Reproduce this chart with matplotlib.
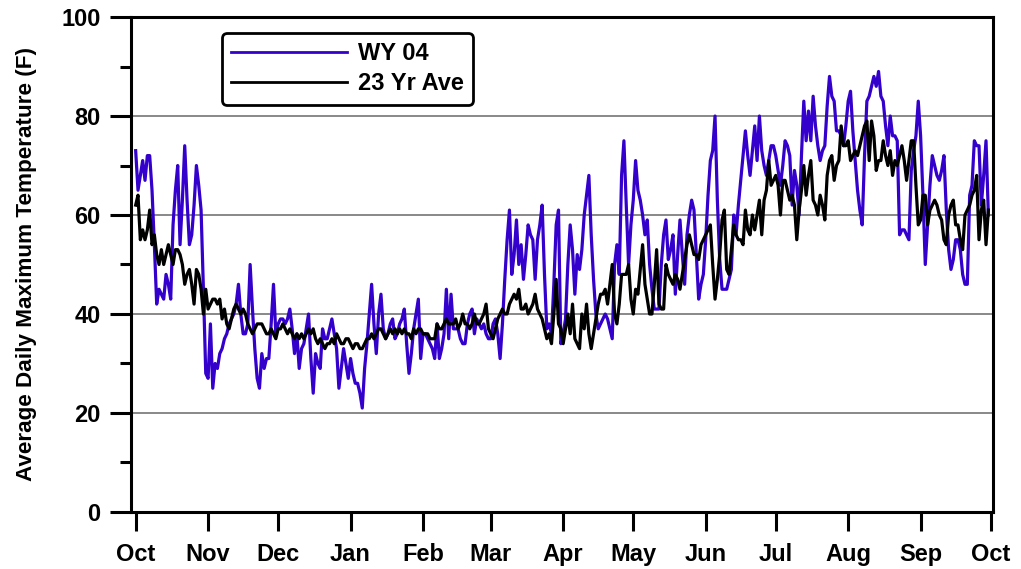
import numpy as np
import matplotlib
matplotlib.use("Agg")
import matplotlib.pyplot as plt
from matplotlib.ticker import MultipleLocator

plt.rcParams['font.family'] = ['Liberation Sans', 'DejaVu Sans']
plt.rcParams['font.weight'] = 'bold'

# daily max temps, water year Oct 2003 - Sep 2004 (F)
wy04 = {
    'Oct': [73, 65, 68, 71, 67, 72, 72, 65, 54, 42, 45, 44, 43, 48, 46, 43, 58, 65, 70, 54,
            63, 74, 63, 54, 56, 62, 70, 66, 61, 45, 28],
    'Nov': [27, 38, 25, 30, 29, 32, 33, 35, 36, 38, 39, 40, 42, 46, 40, 36, 36, 38, 50, 41,
            33, 27, 25, 32, 29, 31, 31, 38, 46, 36],
    'Dec': [38, 39, 39, 38, 39, 41, 37, 32, 36, 29, 33, 34, 37, 40, 31, 24, 32, 30, 29, 37,
            35, 35, 37, 39, 36, 33, 25, 29, 33, 30, 27],
    'Jan': [31, 28, 26, 26, 24, 21, 29, 34, 40, 46, 38, 32, 40, 44, 37, 35, 36, 38, 39, 35,
            36, 38, 39, 41, 34, 28, 32, 37, 40, 43, 31],
    'Feb': [36, 36, 35, 34, 33, 31, 38, 31, 33, 36, 45, 35, 44, 37, 37, 37, 35, 34, 34, 38,
            40, 41, 36, 39, 38, 37, 38, 36, 35],
    'Mar': [35, 38, 39, 36, 31, 38, 47, 55, 61, 48, 52, 59, 50, 54, 47, 52, 58, 56, 55, 47,
            55, 58, 62, 48, 37, 38, 36, 46, 58, 61, 34],
    'Apr': [36, 39, 50, 58, 53, 44, 52, 49, 53, 60, 64, 68, 56, 47, 40, 37, 38, 39, 40, 39,
            37, 35, 50, 54, 48, 68, 75, 62, 50, 58],
    'May': [63, 71, 65, 63, 60, 56, 59, 50, 45, 41, 41, 41, 50, 56, 59, 51, 53, 56, 44, 52,
            59, 52, 46, 56, 60, 63, 61, 52, 43, 46, 48],
    'Jun': [55, 64, 71, 73, 80, 63, 51, 45, 45, 45, 47, 49, 60, 56, 62, 67, 72, 77, 72, 68,
            73, 78, 71, 80, 73, 70, 68, 71, 74, 74],
    'Jul': [72, 69, 66, 70, 75, 74, 72, 62, 69, 66, 60, 72, 83, 75, 81, 75, 84, 78, 74, 71,
            73, 74, 82, 88, 84, 83, 77, 77, 76, 74, 78],
    'Aug': [83, 85, 77, 71, 65, 61, 58, 72, 83, 84, 86, 88, 86, 89, 84, 83, 78, 74, 80, 76,
            76, 75, 56, 57, 57, 56, 55, 69, 73, 76, 83],
    'Sep': [76, 64, 50, 58, 66, 72, 70, 68, 67, 69, 72, 61, 53, 49, 51, 55, 55, 53, 48, 46,
            46, 64, 66, 75, 74, 74, 62, 68, 75, 60],
}

ave23 = {
    'Oct': [62, 64, 55, 57, 55, 57, 61, 54, 56, 52, 50, 53, 50, 52, 54, 52, 50, 53, 53, 52,
            50, 46, 48, 49, 46, 42, 49, 48, 45, 40, 45],
    'Nov': [41, 42, 43, 43, 42, 43, 39, 41, 38, 37, 39, 41, 42, 41, 40, 41, 40, 38, 37, 36,
            37, 38, 38, 38, 37, 36, 36, 37, 36, 35],
    'Dec': [37, 37, 38, 37, 36, 37, 36, 35, 36, 35, 36, 35, 36, 37, 36, 37, 35, 34, 35, 34,
            33, 34, 34, 35, 34, 36, 35, 34, 34, 35, 35],
    'Jan': [34, 33, 34, 34, 33, 33, 34, 35, 35, 36, 35, 36, 37, 37, 36, 35, 36, 37, 36, 37,
            36, 37, 36, 37, 36, 36, 35, 37, 36, 37, 37],
    'Feb': [36, 36, 36, 35, 35, 35, 38, 37, 37, 38, 39, 38, 38, 38, 39, 37, 38, 40, 38, 38,
            37, 38, 40, 38, 38, 39, 40, 42, 37],
    'Mar': [36, 35, 37, 39, 40, 41, 40, 40, 42, 43, 44, 43, 45, 41, 41, 42, 40, 41, 42, 44,
            41, 40, 39, 37, 35, 36, 34, 40, 47, 38, 37],
    'Apr': [34, 37, 40, 36, 42, 35, 34, 33, 40, 37, 42, 36, 33, 36, 39, 42, 44, 44, 45, 42,
            46, 50, 40, 38, 42, 48, 48, 48, 50, 43],
    'May': [40, 45, 44, 49, 54, 46, 43, 40, 40, 46, 53, 42, 41, 41, 50, 48, 47, 46, 48, 47,
            45, 48, 51, 54, 56, 54, 52, 52, 51, 54, 55],
    'Jun': [56, 57, 58, 50, 43, 47, 52, 59, 61, 49, 48, 53, 58, 56, 55, 55, 54, 61, 57, 56,
            60, 57, 60, 63, 56, 63, 65, 71, 66, 67],
    'Jul': [68, 66, 60, 67, 67, 65, 63, 64, 62, 55, 61, 65, 70, 64, 68, 71, 63, 62, 60, 64,
            62, 59, 68, 71, 72, 67, 70, 71, 78, 74, 74],
    'Aug': [75, 71, 72, 73, 72, 74, 76, 78, 79, 71, 79, 76, 69, 71, 71, 75, 72, 70, 73, 68,
            71, 70, 72, 74, 71, 67, 71, 75, 75, 66, 58],
    'Sep': [59, 64, 64, 58, 61, 62, 63, 62, 60, 59, 55, 54, 60, 62, 63, 58, 58, 55, 53, 60,
            61, 62, 64, 65, 68, 55, 61, 63, 54, 61],
}

months = ['Oct', 'Nov', 'Dec', 'Jan', 'Feb', 'Mar', 'Apr', 'May', 'Jun', 'Jul', 'Aug', 'Sep']
month_labels = months + ['Oct']

wy_vals = np.concatenate([wy04[m] for m in months])
ave_vals = np.concatenate([ave23[m] for m in months])
days = np.arange(len(wy_vals))

# month start positions (day index)
month_len = [len(wy04[m]) for m in months]
month_starts = np.concatenate([[0], np.cumsum(month_len)])

fig = plt.figure(figsize=(10.21, 5.69), dpi=100)
ax = fig.add_axes([0.1283, 0.1002, 0.8443, 0.8699])

ax.plot(days, wy_vals, color='#3300cc', lw=2.3, label='WY 04', zorder=3)
ax.plot(days, ave_vals, color='black', lw=2.3, label='23 Yr Ave', zorder=4)

ax.set_xlim(-2, 367)
ax.set_ylim(0, 100)
ax.set_xticks(month_starts)
ax.set_xticklabels(month_labels)
ax.yaxis.set_major_locator(MultipleLocator(20))
ax.yaxis.set_minor_locator(MultipleLocator(10))

for y in [20, 40, 60, 80]:
    ax.axhline(y, color='#7f7f7f', lw=1.3, zorder=1)

for s in ax.spines.values():
    s.set_linewidth(2.2)

ax.tick_params(axis='y', which='major', length=15, width=2.2, pad=7, labelsize=17)
ax.tick_params(axis='y', which='minor', length=8, width=2.2)
ax.tick_params(axis='x', which='major', length=14, width=2.2, pad=8, labelsize=17)

ax.set_ylabel('Average Daily Maximum Temperature (F)', fontsize=16.2, fontweight='bold', labelpad=17)

leg = ax.legend(loc='upper left', bbox_to_anchor=(0.1056, 0.968), fontsize=17,
                handlelength=4.9, handletextpad=0.45, labelspacing=0.3, borderpad=0.4,
                fancybox=True, framealpha=1, edgecolor='black', borderaxespad=0)
leg.get_frame().set_linewidth(2.0)
for line in leg.get_lines():
    line.set_linewidth(2.0)

fig.savefig('out.png', dpi=100)
